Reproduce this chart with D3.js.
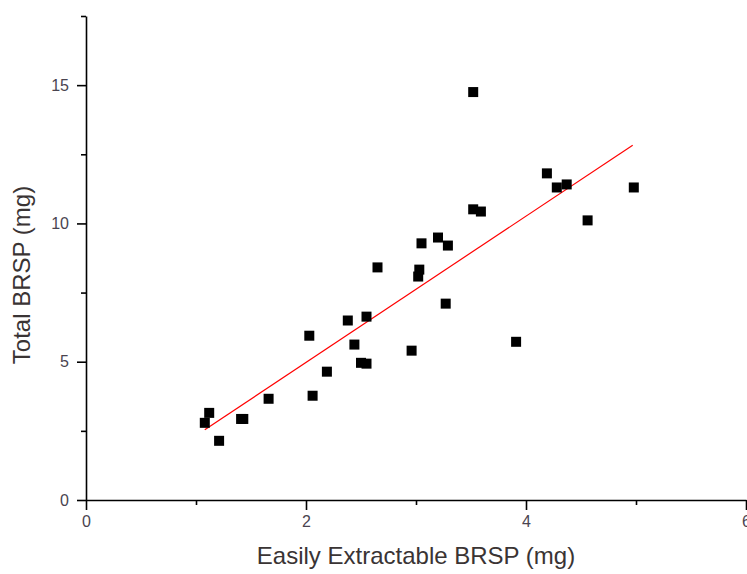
<!DOCTYPE html>
<html>
<head>
<meta charset="utf-8">
<script src="https://cdn.jsdelivr.net/npm/d3@7"></script>
<style>
  body { margin: 0; background: #fff; }
  svg { display: block; font-family: "Liberation Sans", Arial, sans-serif; }
</style>
</head>
<body>
<script>
//easily extractable BRSP (x) vs total BRSP (y)
var easyBRSP  = [1.08, 1.12, 1.21, 1.41, 1.43, 1.66, 2.03, 2.06, 2.19, 2.38,
                 2.44, 2.50, 2.55, 2.55, 2.65, 2.96, 3.02, 3.03, 3.05, 3.20,
                 3.27, 3.29, 3.52, 3.52, 3.59, 3.91, 4.19, 4.28, 4.37, 4.56, 4.98];
var totalBRSP = [2.79, 3.15, 2.14, 2.93, 2.93, 3.66, 5.94, 3.77, 4.64, 6.49,
                 5.62, 4.96, 4.93, 6.63, 8.41, 5.40, 8.08, 8.33, 9.28, 9.49,
                 7.10, 9.20, 14.75, 10.51, 10.43, 5.72, 11.81, 11.30, 11.41, 10.11, 11.30];

//linear fit line end points
var fitX = [1.08, 4.97];
var fitY = [2.54, 12.83];

//tick values
var xTicks = [0, 2, 4, 6];
var xMinor = [1, 3, 5];
var yTicks = [0, 5, 10, 15];
var yMinor = [2.5, 7.5, 12.5, 17.5];

(function(){

var width = 747,
    height = 574;

var svg = d3.select("body")
    .append("svg")
    .attr("width", width)
    .attr("height", height);

var x = d3.scaleLinear().domain([0, 6]).range([86, 746]);
var y = d3.scaleLinear().domain([0, 17.5]).range([500, 16]);

//minor ticks first
svg.append("g")
    .attr("transform", "translate(0,500)")
    .call(d3.axisBottom(x).tickValues(xMinor).tickSize(5).tickFormat(""))
    .call(function(g){ g.select(".domain").remove(); });

svg.append("g")
    .attr("transform", "translate(86,0)")
    .call(d3.axisLeft(y).tickValues(yMinor).tickSize(5).tickFormat(""))
    .call(function(g){ g.select(".domain").remove(); });

//major axes
var xAxis = svg.append("g")
    .attr("class", "xAxis")
    .attr("transform", "translate(0,500)")
    .call(d3.axisBottom(x).tickValues(xTicks).tickFormat(d3.format("d"))
        .tickSize(10).tickSizeOuter(0).tickPadding(6));

var yAxis = svg.append("g")
    .attr("class", "yAxis")
    .attr("transform", "translate(86,0)")
    .call(d3.axisLeft(y).tickValues(yTicks).tickFormat(d3.format("d"))
        .tickSize(9).tickSizeOuter(0).tickPadding(8));

svg.selectAll(".xAxis, .yAxis").selectAll("path, line")
    .attr("stroke", "#000")
    .attr("stroke-width", 1.6);
svg.selectAll("g line").attr("stroke", "#000").attr("stroke-width", 1.6);

svg.selectAll(".xAxis text, .yAxis text")
    .attr("font-size", 16)
    .attr("fill", "#4a4450")
    .style("font-family", "'Liberation Sans', Arial, sans-serif");

//fit line
var fitData = fitX.map(function(d, i){ return [d, fitY[i]]; });
svg.append("path")
    .datum(fitData)
    .attr("fill", "none")
    .attr("stroke", "#ff0000")
    .attr("stroke-width", 1.2)
    .attr("d", d3.line().x(function(d){ return x(d[0]); }).y(function(d){ return y(d[1]); }));

//points
var pts = easyBRSP.map(function(d, i){ return [d, totalBRSP[i]]; });
svg.selectAll(".pt")
    .data(pts)
    .enter()
    .append("rect")
    .attr("class", "pt")
    .attr("x", function(d){ return x(d[0]) - 5; })
    .attr("y", function(d){ return y(d[1]) - 5; })
    .attr("width", 10)
    .attr("height", 10)
    .attr("fill", "#000");

//axis titles
svg.append("text")
    .attr("x", 416)
    .attr("y", 564)
    .attr("text-anchor", "middle")
    .attr("font-size", 24)
    .attr("fill", "#3a3434")
    .text("Easily Extractable BRSP (mg)");

svg.append("text")
    .attr("transform", "translate(30,275) rotate(-90)")
    .attr("text-anchor", "middle")
    .attr("font-size", 24)
    .attr("fill", "#3a3434")
    .text("Total BRSP (mg)");

})();
</script>
</body>
</html>
